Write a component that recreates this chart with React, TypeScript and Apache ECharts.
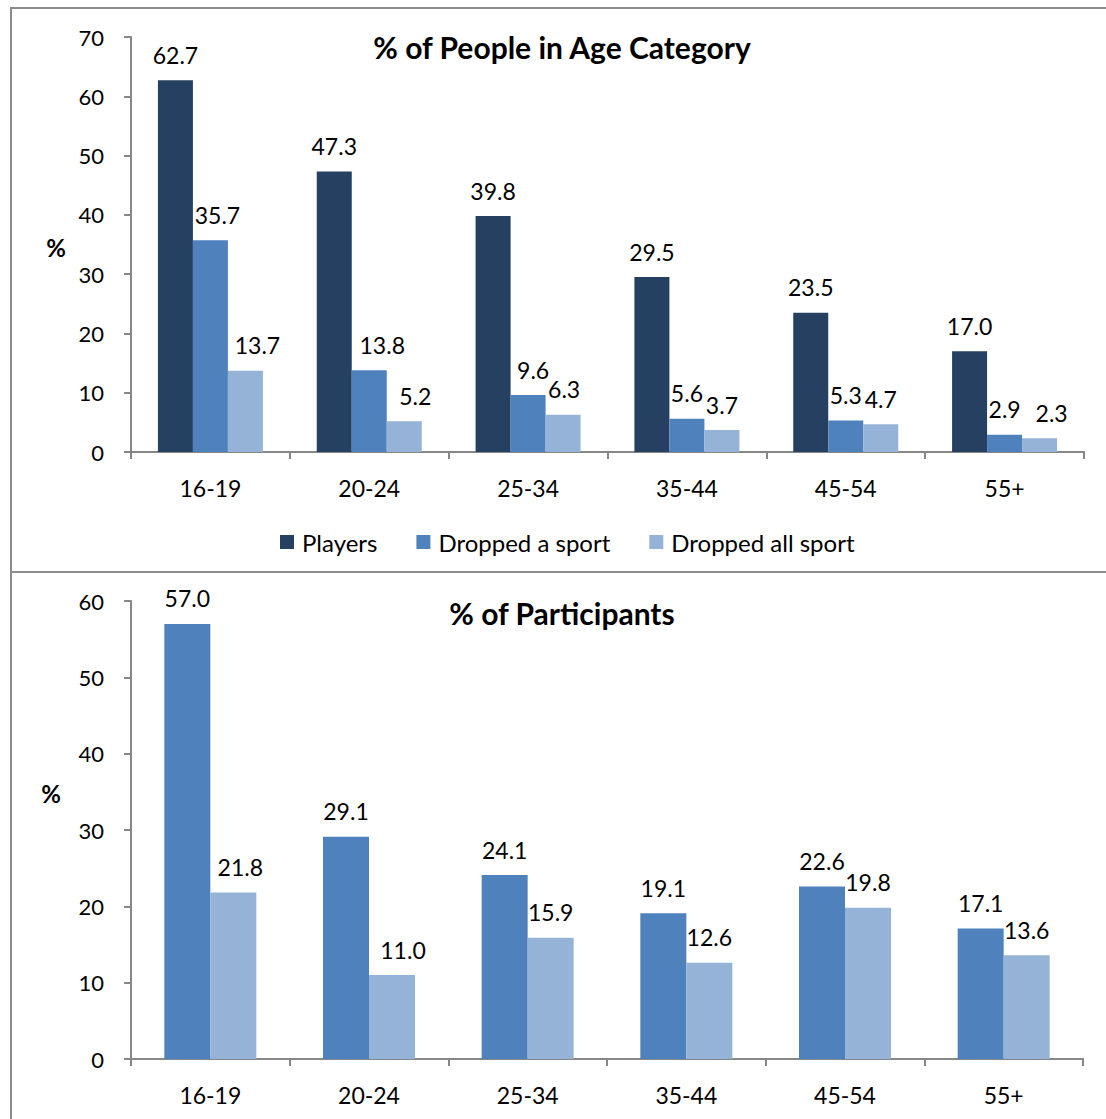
import React, { useEffect, useRef } from "react";
import * as echarts from "echarts";

const categories = ["16-19", "20-24", "25-34", "35-44", "45-54", "55+"];
const yTicksTop = [0, 10, 20, 30, 40, 50, 60, 70];
const yTicksBottom = [0, 10, 20, 30, 40, 50, 60];

const topPlayers = [62.7, 47.3, 39.8, 29.5, 23.5, 17.0];
const topDroppedA = [35.7, 13.8, 9.6, 5.6, 5.3, 2.9];
const topDroppedAll = [13.7, 5.2, 6.3, 3.7, 4.7, 2.3];

const bottomDroppedA = [57.0, 29.1, 24.1, 19.1, 22.6, 17.1];
const bottomDroppedAll = [21.8, 11.0, 15.9, 12.6, 19.8, 13.6];

const seriesNames = ["Players", "Dropped a sport", "Dropped all sport"];
const titles = ["% of People in Age Category", "% of Participants"];

// horizontal nudges (px) of individual data labels, as placed in the original
const nudgeTopDroppedA = [7, 13, 5, 0, 0, 0];
const nudgeTopDroppedAll = [12, 11, 1, 0, 0, 12];
const nudgeBottomDroppedAll = [7, 11, 0, 0, 0, 0];

const COLORS = ["#254061", "#4F81BD", "#95B3D7"];
const FONT = "Lato";
const AXIS_GREY = "#878787";

function withNudge(values: number[], nudges?: number[]) {
  return values.map((v, i) =>
    nudges && nudges[i] ? { value: v, label: { offset: [nudges[i], 0] } } : v
  );
}

function App() {
  const ref = useRef<HTMLDivElement>(null);
  useEffect(() => {
    if (!ref.current) return;
    const chart = echarts.init(ref.current, null, { renderer: "svg" });

    const label = (distance: number) => ({
      show: true,
      position: "top",
      distance,
      color: "#000",
      fontFamily: FONT,
      fontSize: 23,
      formatter: (p: any) => Number(p.value).toFixed(1),
    });

    const xAxisCommon = {
      type: "category",
      data: categories,
      boundaryGap: true,
      axisLine: { show: true, lineStyle: { color: AXIS_GREY, width: 2 } },
      axisTick: { show: true, length: 7, lineStyle: { color: AXIS_GREY, width: 2 } },
      axisLabel: { color: "#000", fontFamily: FONT, fontSize: 23, margin: 24 },
      splitLine: { show: false },
    };
    const yAxisCommon = (max: number) => ({
      type: "value",
      min: 0,
      max,
      interval: 10,
      axisLine: { show: true, lineStyle: { color: AXIS_GREY, width: 2 } },
      axisTick: { show: true, length: 7, lineStyle: { color: AXIS_GREY, width: 2 } },
      axisLabel: { color: "#000", fontFamily: FONT, fontSize: 22, margin: 27 },
      splitLine: { show: false },
    });

    chart.setOption({
      animation: false,
      backgroundColor: "#fff",
      textStyle: { fontFamily: FONT },
      title: [
        {
          text: titles[0],
          left: 557,
          top: 27,
          textAlign: "center",
          textStyle: { fontFamily: FONT, fontWeight: "bold", fontSize: 30, color: "#000" },
        },
        {
          text: titles[1],
          left: 557,
          top: 593,
          textAlign: "center",
          textStyle: { fontFamily: FONT, fontWeight: "bold", fontSize: 30, color: "#000" },
        },
      ],
      legend: {
        data: seriesNames,
        left: 275,
        top: 525,
        itemWidth: 14,
        itemHeight: 14,
        itemGap: 39,
        icon: "rect",
        textStyle: { fontFamily: FONT, fontSize: 24, color: "#000", padding: [0, 0, 0, 3] },
        selectedMode: false,
      },
      grid: [
        { left: 131, top: 37, right: 22, height: 415 },
        { left: 131, top: 601, right: 23, height: 458 },
      ],
      xAxis: [
        { ...xAxisCommon, gridIndex: 0 },
        { ...xAxisCommon, gridIndex: 1 },
      ],
      yAxis: [
        { ...yAxisCommon(yTicksTop[yTicksTop.length - 1]), gridIndex: 0 },
        { ...yAxisCommon(yTicksBottom[yTicksBottom.length - 1]), gridIndex: 1 },
      ],
      graphic: [
        {
          type: "rect",
          shape: { x: 11, y: 8, width: 1110, height: 564 },
          style: { fill: "none", stroke: "#8c8c8c", lineWidth: 2 },
          silent: true,
        },
        {
          type: "rect",
          shape: { x: 11, y: 572, width: 1110, height: 600 },
          style: { fill: "none", stroke: "#8c8c8c", lineWidth: 2 },
          silent: true,
        },
        {
          type: "text",
          x: 56,
          y: 247,
          style: { text: "%", fontFamily: FONT, fontWeight: "bold", fontSize: 24, fill: "#000", align: "center", verticalAlign: "middle" },
        },
        {
          type: "text",
          x: 51,
          y: 793,
          style: { text: "%", fontFamily: FONT, fontWeight: "bold", fontSize: 24, fill: "#000", align: "center", verticalAlign: "middle" },
        },
      ],
      series: [
        {
          name: seriesNames[0],
          type: "bar",
          xAxisIndex: 0,
          yAxisIndex: 0,
          data: topPlayers,
          barWidth: 35,
          barGap: "0%",
          itemStyle: { color: COLORS[0] },
          label: label(14),
        },
        {
          name: seriesNames[1],
          type: "bar",
          xAxisIndex: 0,
          yAxisIndex: 0,
          data: withNudge(topDroppedA, nudgeTopDroppedA),
          barWidth: 35,
          barGap: "0%",
          itemStyle: { color: COLORS[1] },
          label: label(14),
        },
        {
          name: seriesNames[2],
          type: "bar",
          xAxisIndex: 0,
          yAxisIndex: 0,
          data: withNudge(topDroppedAll, nudgeTopDroppedAll),
          barWidth: 35,
          barGap: "0%",
          itemStyle: { color: COLORS[2] },
          label: label(14),
        },
        {
          name: seriesNames[1],
          type: "bar",
          xAxisIndex: 1,
          yAxisIndex: 1,
          data: bottomDroppedA,
          barWidth: 46,
          barGap: "0%",
          itemStyle: { color: COLORS[1] },
          label: label(14),
        },
        {
          name: seriesNames[2],
          type: "bar",
          xAxisIndex: 1,
          yAxisIndex: 1,
          data: withNudge(bottomDroppedAll, nudgeBottomDroppedAll),
          barWidth: 46,
          barGap: "0%",
          itemStyle: { color: COLORS[2] },
          label: label(14),
        },
      ],
    });
    return () => chart.dispose();
  }, []);

  return (
    <div
      ref={ref}
      style={{ position: "absolute", left: 0, top: 0, width: 1106, height: 1119 }}
    />
  );
}

export default App;
